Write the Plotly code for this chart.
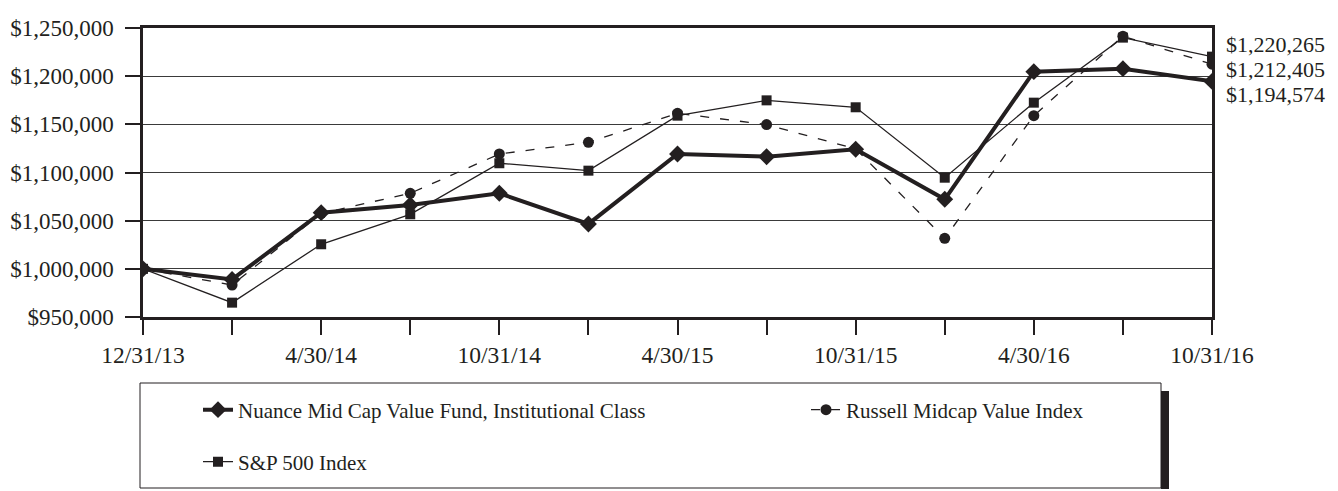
import plotly.graph_objects as go

# ---- data ----
dates = ["12/31/13", "2/28/14", "4/30/14", "7/31/14", "10/31/14", "1/31/15", "4/30/15",
         "7/31/15", "10/31/15", "1/31/16", "4/30/16", "7/31/16", "10/31/16"]
tick_labels = ["12/31/13", "", "4/30/14", "", "10/31/14", "", "4/30/15",
               "", "10/31/15", "", "4/30/16", "", "10/31/16"]
fund = [1000000, 989000, 1058300, 1066300, 1078400, 1046600, 1119200,
        1116400, 1124100, 1072200, 1204700, 1207800, 1194574]
russell = [1000000, 983200, 1057600, 1078400, 1119200, 1131300, 1161400,
           1149700, 1124500, 1031700, 1159000, 1241500, 1212405]
sp500 = [1000000, 964900, 1025500, 1056600, 1109600, 1101900, 1159000,
         1174900, 1167700, 1094600, 1172500, 1240000, 1220265]
names = ["Nuance Mid Cap Value Fund, Institutional Class", "Russell Midcap Value Index", "S&P 500 Index"]

INK = "#231f20"
FONT = "Liberation Serif"

# page body has an 8px margin, so the figure is drawn 8px smaller and offset
W, H = 1330, 483
ML, MR, MT, MB = 135, 126, 20, 174
PW = W - ML - MR
PH = H - MT - MB
OFF = 8


def px_x(p):  # screen pixel -> paper x
    return (p - OFF - ML) / PW


def px_y(p):  # screen pixel -> paper y
    return (H - MB - (p - OFF)) / PH


fig = go.Figure()
fig.add_trace(go.Scatter(x=dates, y=sp500, name=names[2], mode="lines+markers",
                         line=dict(color=INK, width=1.3),
                         marker=dict(symbol="square", size=10, color=INK),
                         legend="legend2"))
fig.add_trace(go.Scatter(x=dates, y=russell, name=names[1], mode="lines+markers",
                         line=dict(color=INK, width=1.3, dash="9px,11px"),
                         marker=dict(symbol="circle", size=11, color=INK),
                         legend="legend3"))
fig.add_trace(go.Scatter(x=dates, y=fund, name=names[0], mode="lines+markers",
                         line=dict(color=INK, width=4),
                         marker=dict(symbol="diamond", size=13, color=INK),
                         legend="legend"))

end_vals = [sp500[-1], russell[-1], fund[-1]]
for i, v in enumerate(end_vals):
    fig.add_annotation(x=dates[-1], y=sp500[-1], xref="x", yref="y",
                       text="${:,.0f}".format(v),
                       showarrow=False, xanchor="left", yanchor="middle", align="left",
                       xshift=12, yshift=12 - 25 * i,
                       font=dict(family=FONT, size=22, color=INK))

# legend frame and shadow (paper coordinates)
fig.add_shape(type="rect", xref="paper", yref="paper",
              x0=px_x(1161), x1=px_x(1169), y0=px_y(489), y1=px_y(391),
              fillcolor=INK, line=dict(width=0), layer="above")
fig.add_shape(type="rect", xref="paper", yref="paper",
              x0=px_x(140), x1=px_x(1161), y0=px_y(488), y1=px_y(383),
              fillcolor="rgba(0,0,0,0)", line=dict(color=INK, width=1), layer="above")

leg_common = dict(orientation="h", xanchor="left", yanchor="middle",
                  font=dict(family=FONT, size=21, color=INK),
                  bgcolor="rgba(0,0,0,0)", borderwidth=0)

fig.update_layout(
    width=W, height=H,
    margin=dict(l=ML, r=MR, t=MT, b=MB, autoexpand=False),
    paper_bgcolor="white", plot_bgcolor="white",
    font=dict(family=FONT, size=20, color=INK),
    showlegend=True,
    legend=dict(x=px_x(198), y=px_y(410), **leg_common),
    legend3=dict(x=px_x(806), y=px_y(410), **leg_common),
    legend2=dict(x=px_x(198), y=px_y(462), **leg_common),
)
fig.update_xaxes(type="category", range=[0, len(dates) - 1], automargin=False,
                 tickmode="array", tickvals=dates, ticktext=tick_labels,
                 ticks="outside", ticklen=15, tickwidth=1.5, tickcolor=INK,
                 showline=True, linecolor=INK, linewidth=2.5, mirror=True,
                 showgrid=False, zeroline=False, ticklabelstandoff=0,
                 tickfont=dict(family=FONT, size=23.5, color=INK))
fig.update_yaxes(range=[950000, 1250000], dtick=50000, tick0=950000, tickformat="$,.0f",
                 automargin=False,
                 ticks="outside", ticklen=15, tickwidth=1.5, tickcolor=INK,
                 showline=True, linecolor=INK, linewidth=2.5, mirror=True,
                 showgrid=True, gridcolor="#3a3a3a", gridwidth=1.3, zeroline=False,
                 ticklabelstandoff=7,
                 tickfont=dict(family=FONT, size=23, color=INK))

fig.write_html("out.html")
